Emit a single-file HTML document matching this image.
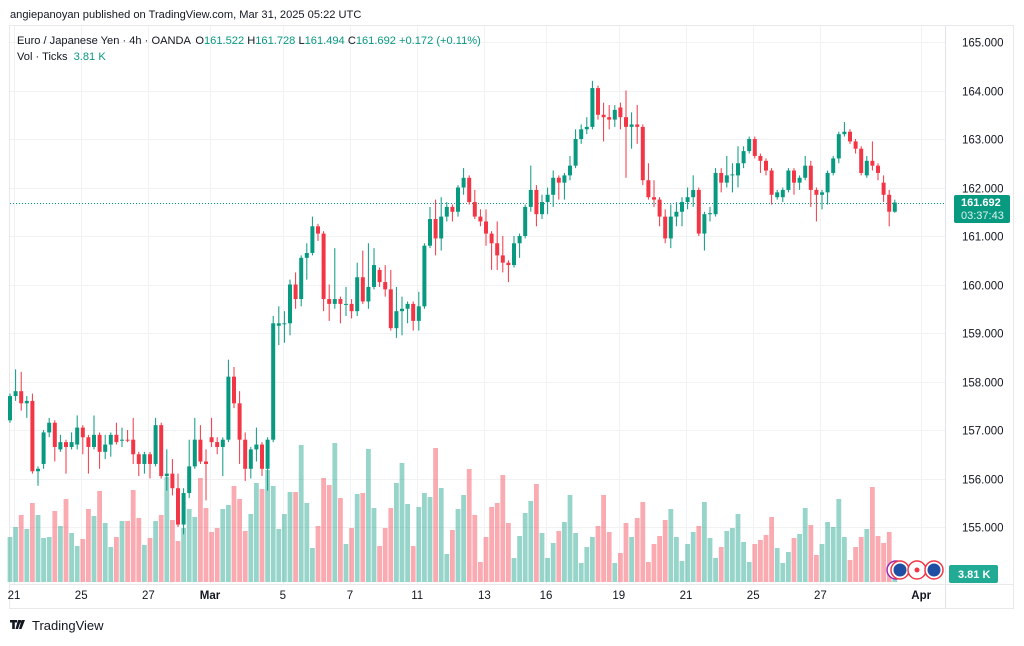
<!DOCTYPE html>
<html><head><meta charset="utf-8"><style>
html,body{margin:0;padding:0;background:#fff;}
body{width:1024px;height:641px;overflow:hidden;font-family:"Liberation Sans",sans-serif;}
svg text{font-family:"Liberation Sans",sans-serif;}
</style></head><body>
<svg id="chart" width="1024" height="641" viewBox="0 0 1024 641" xmlns="http://www.w3.org/2000/svg">
  <text x="10" y="18" font-size="11.1" fill="#131722">angiepanoyan published on TradingView.com, Mar 31, 2025 05:22 UTC</text>
  <rect x="9.5" y="25.5" width="1004" height="583" fill="none" stroke="#e9e9ec"/>
  <g id="grid"></g>
  <g id="vols"></g>
  <line x1="10" x2="945" y1="203.5" y2="203.5" stroke="#089981" stroke-dasharray="1,2" stroke-width="1"/>
  <g id="candles"></g>
  <line x1="945.5" x2="945.5" y1="26" y2="608" stroke="#e0e3eb"/>
  <line x1="10" x2="1013" y1="584.5" y2="584.5" stroke="#e9e9ec"/>
  <g id="yaxis"></g>
  <g id="xaxis"></g>
  <g font-size="11.1">
    <text x="17" y="44" fill="#131722">Euro / Japanese Yen · 4h · OANDA <tspan dx="2" fill="#131722">O</tspan><tspan fill="#089981">161.522</tspan> <tspan fill="#131722">H</tspan><tspan fill="#089981">161.728</tspan> <tspan fill="#131722">L</tspan><tspan fill="#089981">161.494</tspan> <tspan fill="#131722">C</tspan><tspan fill="#089981">161.692 +0.172 (+0.11%)</tspan></text>
    <text x="17" y="60" fill="#131722">Vol · Ticks <tspan dx="3" fill="#089981">3.81 K</tspan></text>
  </g>
  <g>
    <rect x="954" y="195" width="56" height="28" rx="2" fill="#089981"/>
    <text x="961" y="206" font-size="11" fill="#fff" font-weight="bold">161.692</text>
    <text x="961" y="219" font-size="11" fill="#dff3ef">03:37:43</text>
  </g>
  <g>
    <rect x="949" y="565" width="49" height="18" rx="2" fill="#22ab94"/>
    <text x="958" y="578" font-size="11" fill="#fff" font-weight="bold">3.81 K</text>
  </g>
  <g>
    <circle cx="896" cy="570" r="9" fill="#fff" stroke="#9c27b0" stroke-width="1.5"/>
    <circle cx="900" cy="570" r="9" fill="#fff" stroke="#f23645" stroke-width="1.5"/>
    <circle cx="900" cy="570" r="6.5" fill="#1f4fa3"/>
    <circle cx="917" cy="570" r="9" fill="#fff" stroke="#f23645" stroke-width="1.5"/>
    <circle cx="917" cy="570" r="2.5" fill="#f23645"/>
    <circle cx="934" cy="570" r="9" fill="#fff" stroke="#f23645" stroke-width="1.5"/>
    <circle cx="934" cy="570" r="6.5" fill="#1f4fa3"/>
  </g>
  <g>
    <path d="M10 620h7v2.5h-2.2v6.5h-2.6v-6.5h-2.2z M18 620h3l-3 9h-2.5z" fill="#131722"/>
    <circle cx="19.8" cy="621.5" r="1.4" fill="#131722"/>
    <path d="M21.5 620h3.5l-3.5 9h-2.5z" fill="#131722"/>
    <text x="32" y="630" font-size="13" fill="#131722">TradingView</text>
  </g>
</svg>
<script>
const opens=[157.2,157.7,157.8,157.55,157.6,156.15,156.3,156.95,157.15,156.6,156.75,156.65,156.7,157.05,156.85,156.65,156.9,156.55,156.7,156.9,156.78,156.8,156.8,156.5,156.3,156.5,156.3,157.1,156.05,156.1,155.8,155.05,155.7,156.25,156.8,156.35,156.85,156.75,156.65,156.8,158.1,157.55,156.8,156.2,156.6,156.7,156.2,156.8,159.15,159.2,159.2,160.0,159.7,160.55,160.65,161.2,161.05,159.7,159.6,159.7,159.6,159.6,159.45,160.15,159.65,159.95,160.3,160.05,159.9,159.1,159.45,159.5,159.6,159.25,159.55,160.8,161.35,160.95,161.4,161.6,161.5,162.0,162.2,161.7,161.4,161.3,161.05,160.85,160.6,160.45,160.4,160.85,161.0,161.6,161.95,161.45,161.7,161.85,162.2,162.1,162.25,162.45,163.0,163.2,163.25,164.05,163.5,163.45,163.4,163.65,163.45,163.25,163.3,163.25,162.15,161.8,161.75,161.4,160.95,161.4,161.5,161.7,161.8,161.95,161.05,161.45,161.45,162.3,162.1,162.25,162.25,162.5,162.75,163.0,162.65,162.55,162.35,161.8,161.8,161.95,162.35,162.1,162.2,162.45,161.95,161.85,161.9,162.3,162.6,163.1,163.15,162.95,162.8,162.25,162.55,162.45,162.1,161.85,161.5];
const highs=[157.75,158.25,158.2,157.7,157.75,156.25,157.0,157.25,157.2,156.9,156.8,156.95,157.3,157.1,156.9,157.3,156.95,156.9,156.95,157.15,157.05,157.0,157.25,156.55,156.55,156.55,157.25,157.15,156.6,156.4,156.1,155.8,156.8,157.25,157.1,156.6,157.25,156.85,156.85,158.45,158.3,157.8,156.95,156.65,157.05,156.75,156.85,159.35,159.55,159.45,160.1,160.25,160.6,160.85,161.4,161.25,161.1,160.0,160.75,159.75,159.95,159.7,160.45,160.7,160.85,160.75,160.35,160.4,160.3,159.95,159.75,159.65,159.65,159.85,160.85,161.6,161.75,161.8,161.7,161.65,162.05,162.4,162.25,161.95,161.55,161.55,161.1,161.3,161.0,160.5,161.0,161.05,161.65,162.45,162.05,161.85,162.0,162.35,162.25,162.3,162.65,163.2,163.3,163.45,164.2,164.1,163.75,163.7,163.7,163.75,164.0,163.55,163.7,163.3,162.5,162.15,161.8,161.55,161.65,161.7,161.8,162.0,162.25,162.0,161.5,161.6,162.4,162.4,162.65,162.5,162.85,162.85,163.05,163.05,162.7,162.6,162.4,161.95,162.0,162.4,162.4,162.25,162.65,162.55,162.0,161.95,162.35,162.65,163.15,163.35,163.2,163.0,162.85,162.65,162.95,162.5,162.25,161.95,161.75];
const lows=[157.15,157.6,157.4,157.25,156.1,155.85,156.2,156.85,156.35,156.55,156.1,156.6,156.6,156.5,156.1,156.6,156.2,156.4,156.45,156.7,156.65,156.75,156.3,156.05,156.1,156.0,156.25,156.0,155.75,155.65,155.0,154.85,155.6,156.2,156.3,155.55,156.65,156.5,156.05,156.75,157.45,156.3,155.95,156.0,156.35,156.05,155.75,156.75,158.75,158.8,158.95,159.5,159.55,160.1,160.6,160.9,159.45,159.25,159.5,159.2,159.35,159.3,159.35,159.6,159.5,159.9,159.95,159.75,159.05,158.9,158.95,159.2,159.05,159.05,159.5,160.75,160.6,160.7,161.3,161.3,161.4,161.85,161.65,161.35,161.2,160.8,160.3,160.3,160.25,160.05,160.35,160.55,160.95,161.5,161.2,161.35,161.45,161.6,161.75,161.75,162.15,162.4,162.9,163.1,163.2,163.4,162.95,163.2,163.25,163.2,162.2,162.8,162.9,162.05,161.75,161.6,161.2,160.85,160.75,161.2,161.2,161.55,161.6,161.0,160.7,161.3,161.4,161.9,162.0,161.9,162.0,162.4,162.7,162.6,162.3,162.25,161.65,161.75,161.7,161.9,161.85,161.95,162.15,161.6,161.3,161.55,161.65,162.25,162.5,163.05,162.9,162.7,162.25,162.2,162.35,162.15,161.7,161.2,161.48];
const closes=[157.7,157.8,157.55,157.6,156.15,156.2,156.95,157.15,156.65,156.75,156.65,156.75,157.05,156.85,156.65,156.9,156.55,156.7,156.9,156.75,156.8,156.78,156.5,156.3,156.5,156.3,157.1,156.05,156.1,155.8,155.05,155.7,156.25,156.8,156.35,156.3,156.75,156.65,156.8,158.1,157.55,156.8,156.2,156.6,156.7,156.2,156.8,159.2,159.2,159.2,160.0,159.7,160.55,160.65,161.2,161.05,159.7,159.6,159.7,159.6,159.6,159.45,160.15,159.65,159.95,160.4,160.05,159.9,159.1,159.45,159.5,159.6,159.25,159.55,160.8,161.35,160.95,161.4,161.6,161.5,162.0,162.2,161.7,161.4,161.3,161.05,160.85,160.6,160.45,160.4,160.85,161.0,161.6,161.95,161.45,161.7,161.85,162.2,162.1,162.25,162.45,163.0,163.2,163.25,164.05,163.5,163.45,163.4,163.6,163.45,163.25,163.3,163.25,162.15,161.8,161.75,161.4,160.95,161.4,161.5,161.7,161.8,161.95,161.05,161.45,161.47,162.3,162.1,162.25,162.27,162.5,162.75,163.0,162.65,162.55,162.35,161.85,161.9,161.95,162.35,162.1,162.2,162.45,161.95,161.85,161.9,162.3,162.6,163.1,163.15,162.95,162.8,162.3,162.55,162.45,162.3,161.85,161.5,161.69];
const volumes=[45,55,67,53,79,67,44,45,71,56,83,49,36,43,73,66,91,59,35,45,61,61,92,64,37,44,61,67,105,62,41,54,73,65,104,74,50,54,73,77,96,83,51,68,99,93,112,96,53,68,90,90,137,79,34,56,104,97,139,84,38,54,88,89,133,74,36,54,74,99,119,78,36,75,89,85,134,94,28,52,73,87,113,67,20,45,75,79,107,59,24,46,69,81,98,49,24,39,51,60,87,49,19,35,45,56,87,50,19,29,59,45,64,80,20,38,46,62,73,45,21,38,50,56,80,44,24,35,51,54,68,40,20,38,42,47,65,34,19,30,44,48,74,57,27,38,60,55,83,45,22,35,45,53,95,46,39,50,3];
const priceTicks=[165,164,163,162,161,160,159,158,157,156,155];
const dateLabels=["21","25","27","Mar","5","7","11","13","16","19","21","25","27","Apr"];
const dateIndex=[1,13,25,36,49,61,73,85,96,109,121,133,145,163];

const NS="http://www.w3.org/2000/svg";
function yP(p){return 42+(165-p)*48.5;}
function xI(i){return 10+i*5.6;}
function yV(v){return 582-v;}
function mk(tag,attrs,parent){const e=document.createElementNS(NS,tag);for(const k in attrs)e.setAttribute(k,attrs[k]);parent.appendChild(e);return e;}
const grid=document.getElementById('grid'),vols=document.getElementById('vols'),cg=document.getElementById('candles'),ya=document.getElementById('yaxis'),xa=document.getElementById('xaxis');
priceTicks.forEach(p=>{
  const y=Math.round(yP(p))+0.5;
  const gl=mk('line',{x1:10,x2:945,y1:y,y2:y,stroke:'#f2f2f4'},grid);
  
  
  const t=mk('text',{x:962,y:y+4,'font-size':11.5,fill:'#131722'},ya);
  t.textContent=p.toFixed(3);
  
  
});
dateLabels.forEach((d,k)=>{
  const x=8.4+dateIndex[k]*5.6;
  if(x<940){
    const gl=mk('line',{x1:Math.round(x)+0.5,x2:Math.round(x)+0.5,y1:26,y2:584,stroke:'#f2f2f4'},grid);
    
    
  }
  const t=mk('text',{x:x,y:599,'font-size':11.5,fill:'#131722','text-anchor':'middle','font-weight':(d==='Mar'||d==='Apr')?'bold':'normal'},xa);
  t.textContent=d;
  
  
});
opens.forEach((o,i)=>{
  const c=closes[i],up=c>=o,x=xI(i);
  const vb=mk('rect',{x:x-2.4,y:yV(volumes[i]),width:4.8,height:volumes[i],fill:up?'rgba(8,153,129,0.42)':'rgba(242,54,69,0.42)'},vols);
  
  
  const col=up?'#089981':'#f23645';
  const w=mk('line',{x1:x,x2:x,y1:yP(highs[i]),y2:yP(lows[i]),stroke:col,'stroke-width':1},cg);
  
  
  const top=yP(Math.max(o,c)),bot=yP(Math.min(o,c));
  const b=mk('rect',{x:x-2,y:top,width:4,height:Math.max(1,bot-top),fill:col},cg);
  
  
});
</script>
</body></html>
